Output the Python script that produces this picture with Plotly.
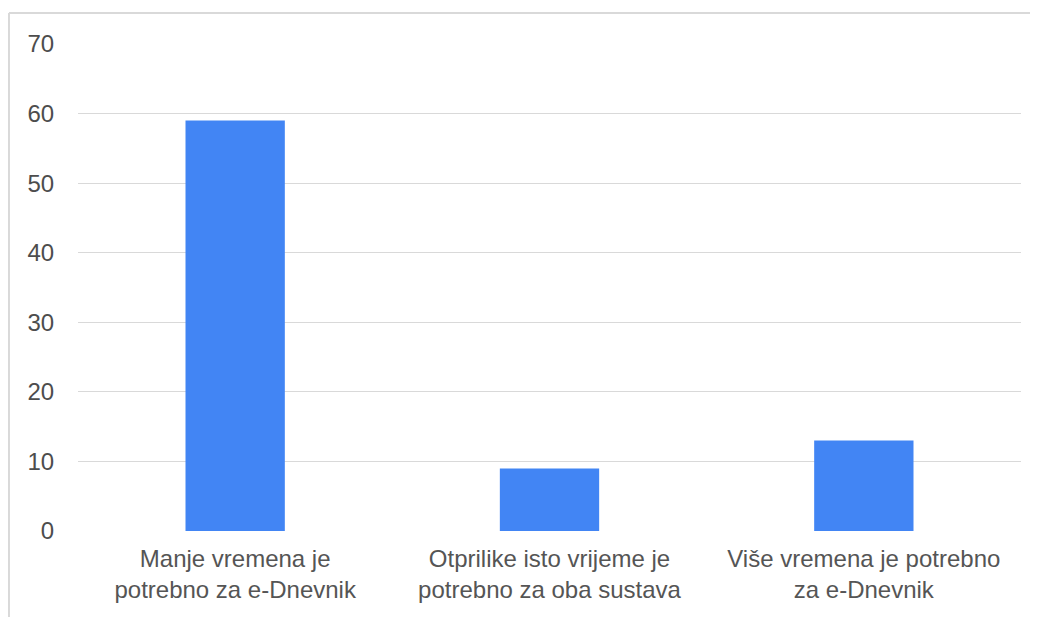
import plotly.graph_objects as go

categories = ["Manje vremena je<br>potrebno za e-Dnevnik",
              "Otprilike isto vrijeme je<br>potrebno za oba sustava",
              "Više vremena je potrebno<br>za e-Dnevnik"]
values = [59, 9, 13]
y_ticks = [0, 10, 20, 30, 40, 50, 60, 70]

fig = go.Figure()
fig.add_trace(go.Bar(x=categories, y=values, marker_color="#4285f4",
                     marker_line_width=0, showlegend=False))

# page has an 8px body margin, so margins are shifted by 8
fig.update_layout(
    width=1038, height=617,
    margin=dict(l=70, r=25, t=36, b=94),
    plot_bgcolor="white", paper_bgcolor="white",
    bargap=0.684,
    font=dict(family="Liberation Sans, Arial", size=24, color="#4d4d4d"),
)
fig.update_yaxes(range=[0, 70], tickvals=y_ticks, showgrid=True, gridcolor="#d9d9d9",
                 gridwidth=1, zeroline=False, ticks="outside", ticklen=18,
                 tickcolor="rgba(0,0,0,0)", tickfont=dict(size=24, color="#4d4d4d"))
fig.update_xaxes(showgrid=False, ticks="outside", ticklen=6, tickcolor="rgba(0,0,0,0)",
                 tickfont=dict(size=24, color="#555"), showline=False)

# light frame on top and left
fig.add_shape(type="line", xref="paper", yref="paper", x0=-0.0732, x1=1.1,
              y0=1.0637, y1=1.0637, line=dict(color="#d9d9d9", width=2))
fig.add_shape(type="line", xref="paper", yref="paper", x0=-0.0732, x1=-0.0732,
              y0=1.0637, y1=-0.2, line=dict(color="#d9d9d9", width=2))

fig.write_html("out.html")
